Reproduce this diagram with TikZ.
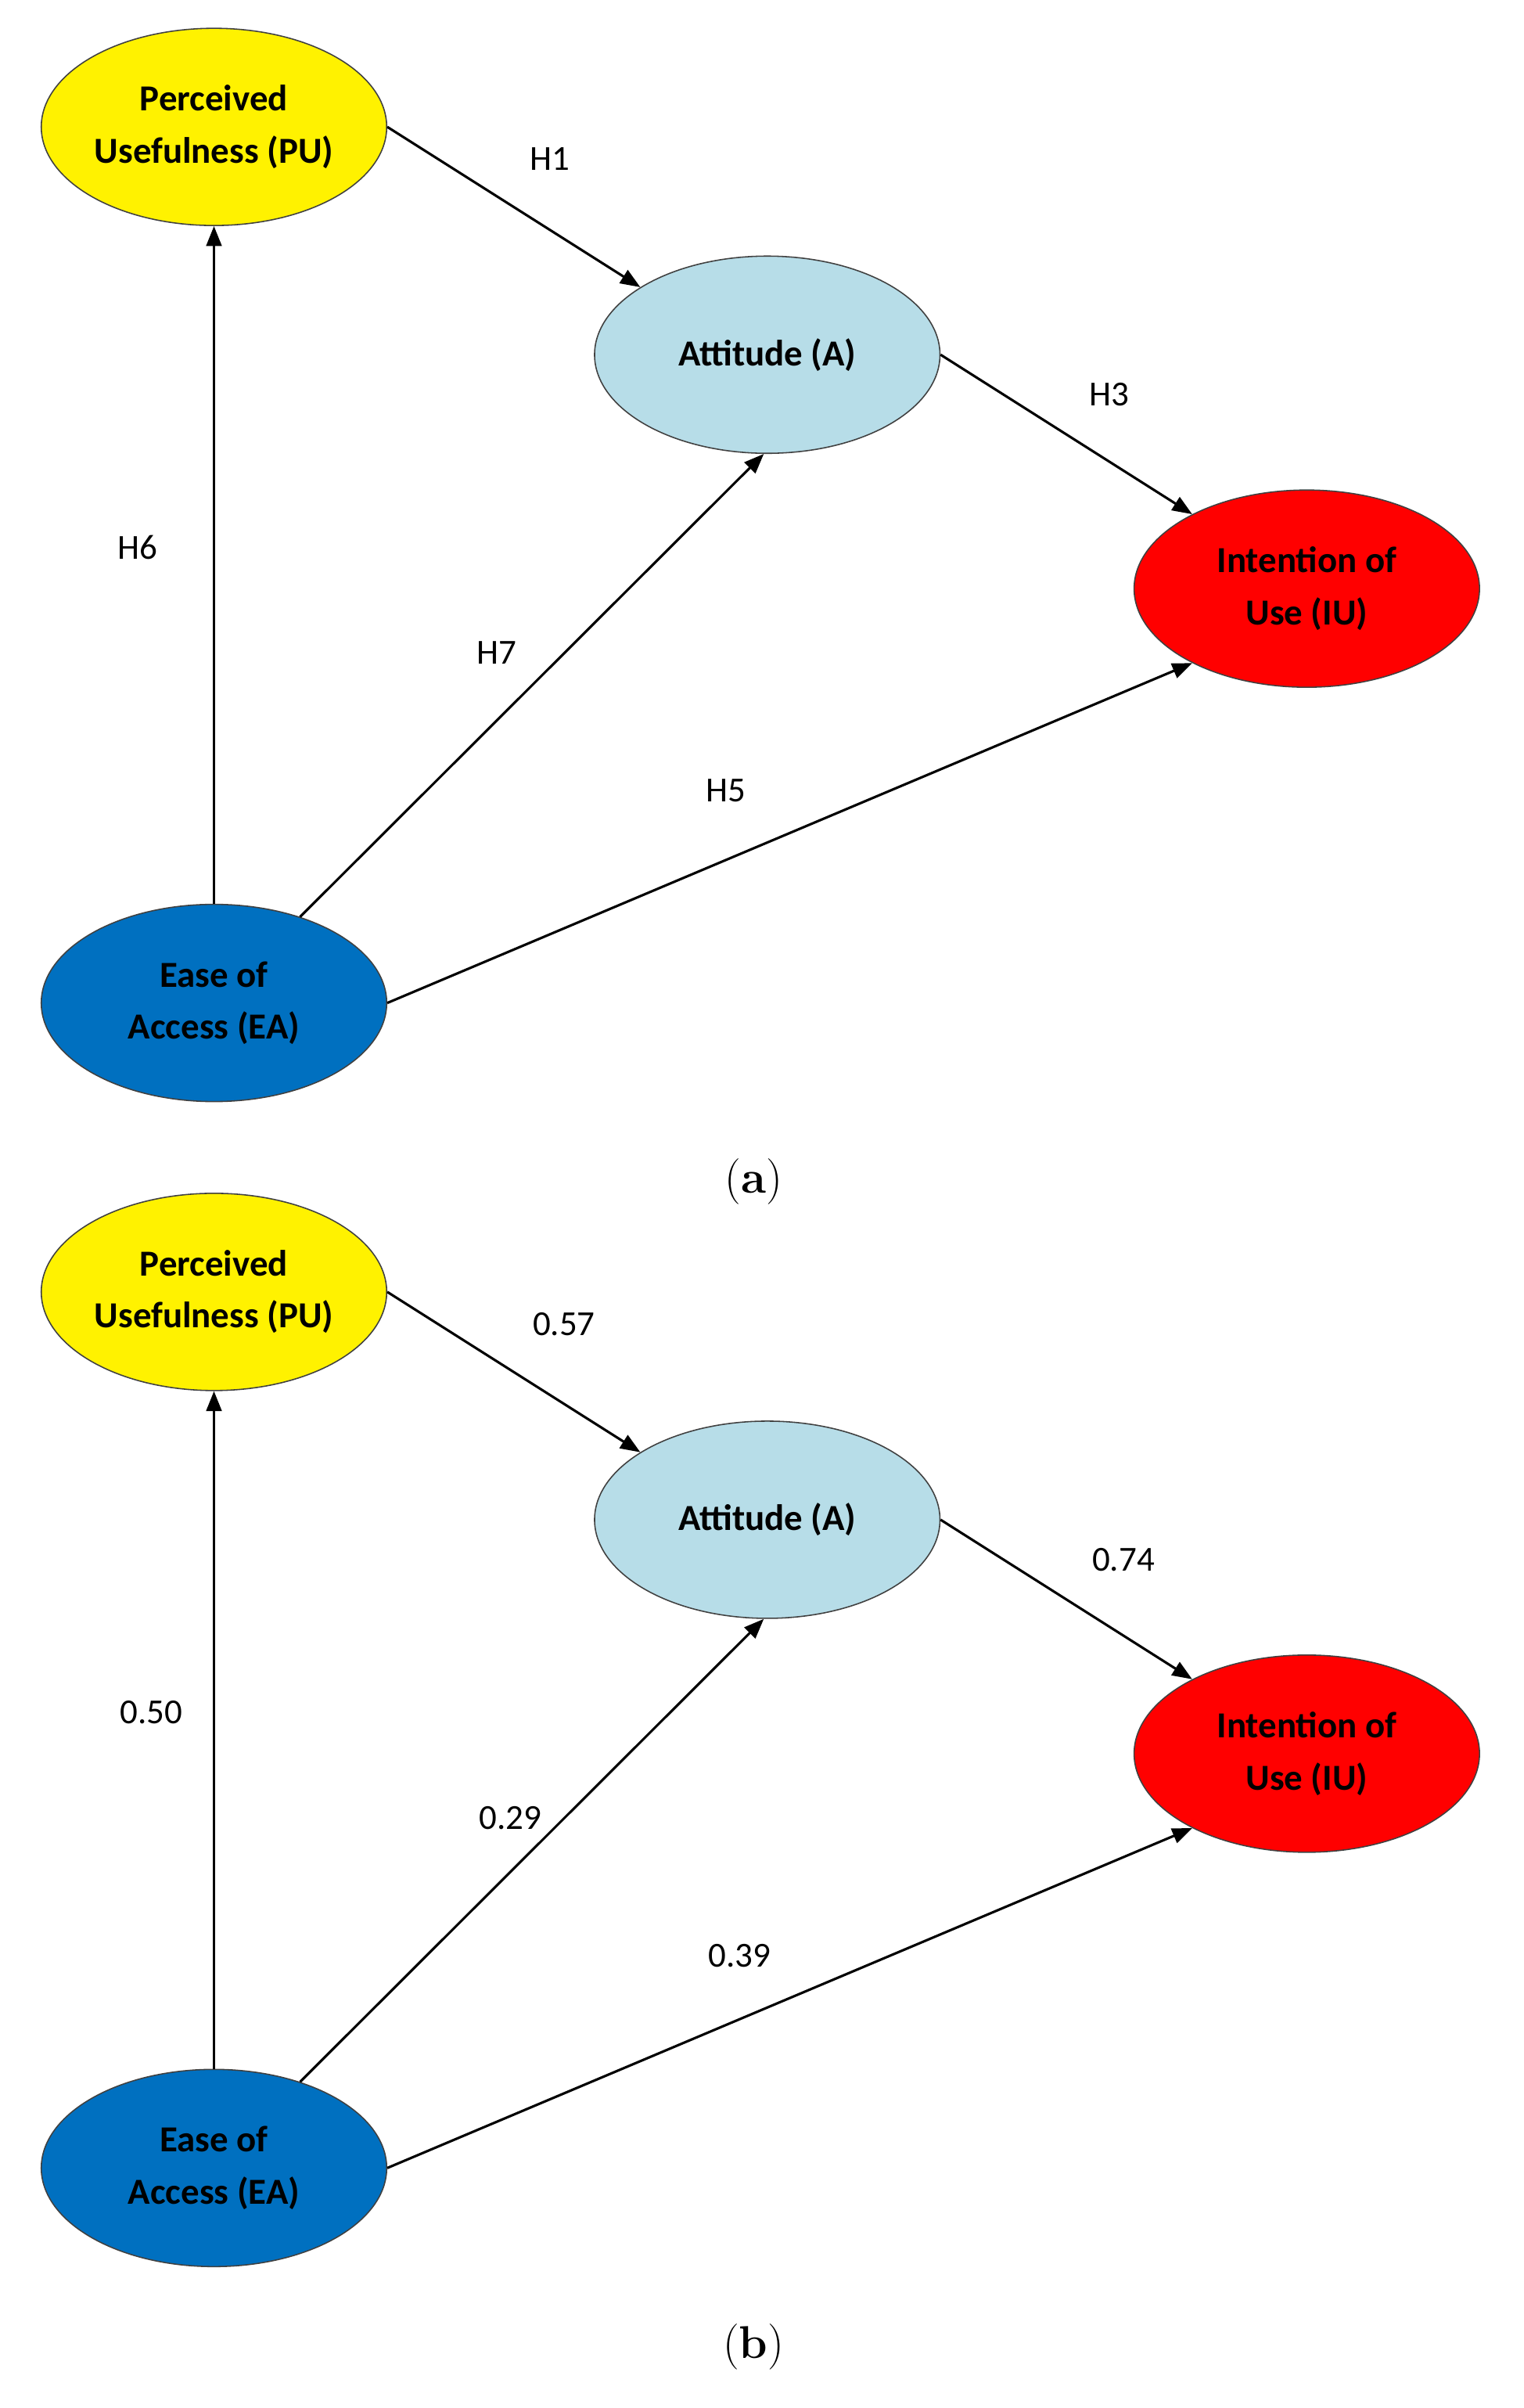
\documentclass[tikz,border=0pt]{standalone}
\usepackage{fontspec}
\setmainfont{Carlito}
\newfontfamily\capfont{Latin Modern Roman}
\usetikzlibrary{shapes.geometric,arrows.meta}
\definecolor{cA}{HTML}{B7DDE8}
\definecolor{cEA}{HTML}{0070C0}
\begin{document}
\begin{tikzpicture}[x=1pt,y=-1pt,
  ell/.style={ellipse,draw=black!75,line width=0.8pt,minimum width=226pt,minimum height=129pt,inner sep=0pt,align=center,font=\fontsize{24}{34}\selectfont\bfseries},
  arr/.style={-{Triangle[length=13pt,width=10pt]},line width=1.6pt},
  lab/.style={font=\fontsize{23}{28}\selectfont},
  captxt/.style={font=\capfont\fontsize{30}{34}\selectfont}]
\useasboundingbox (0,0) rectangle (997,1575);
\foreach \p/\dy/\la/\lb/\lc/\ld/\le/\cp/\ox in {a/0/H1/H3/H6/H7/H5/a/0, b/762/0.57/0.74/0.50/0.29/0.39/b/9}{
  \node[ell,fill=yellow] (PU\p) at (140,83+\dy) {Perceived\\Usefulness (PU)};
  \node[ell,fill=cA] (A\p) at (502,232+\dy) {Attitude (A)};
  \node[ell,fill=red] (IU\p) at (855,385+\dy) {Intention of\\Use (IU)};
  \node[ell,fill=cEA] (EA\p) at (140,656+\dy) {Ease of\\Access (EA)};
  \draw[arr] (PU\p.east) -- (A\p.152);
  \draw[arr] (A\p.east) -- (IU\p.147);
  \draw[arr] (EA\p.north) -- (PU\p.south);
  \draw[arr] (EA\p.45) -- (A\p.268);
  \draw[arr] (EA\p.east) -- (IU\p.213);
  \node[lab] (l1\p) at (360+\ox,104+\dy) {\la};
  \node[lab] (l2\p) at (726+\ox,258+\dy) {\lb};
  \node[lab] (l3\p) at (90+\ox,358+\dy) {\lc};
  \node[lab] (l4\p) at (325+\ox,427+\dy) {\ld};
  \node[lab] (l5\p) at (475+\ox,517+\dy) {\le};
  \node[captxt] (c\p) at (493,773+\dy) {(\textbf{\cp})};
}
\end{tikzpicture}
\end{document}
